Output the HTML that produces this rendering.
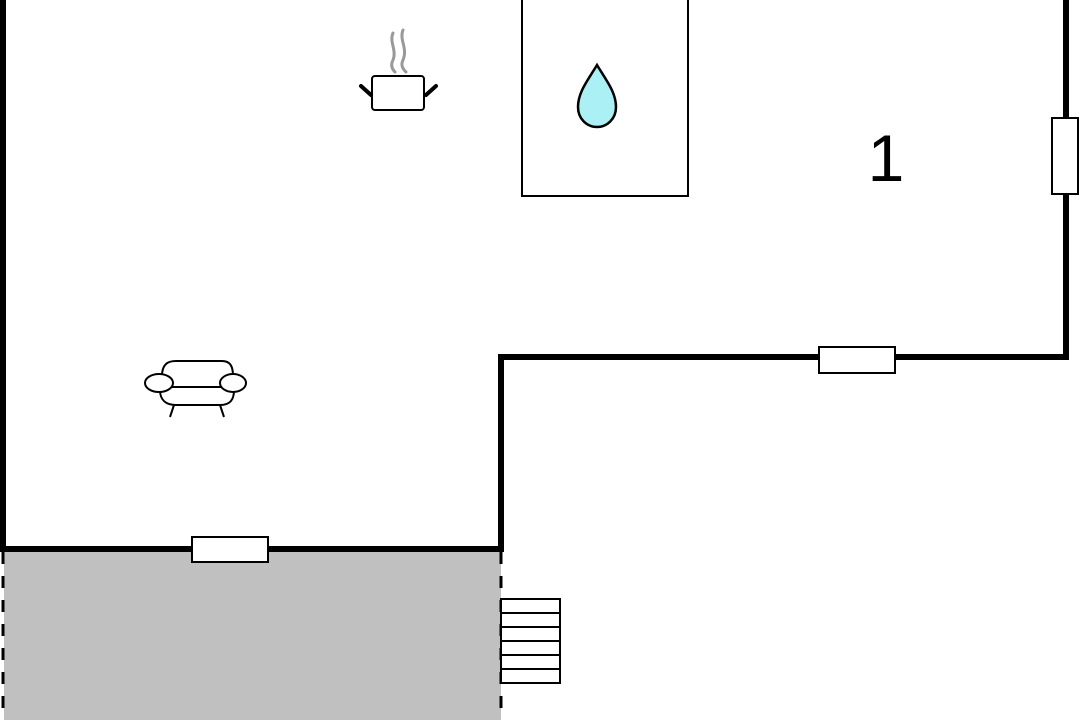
<!DOCTYPE html>
<html><head><meta charset="utf-8"><style>
html,body{margin:0;padding:0;background:#fff;width:1080px;height:720px;overflow:hidden}
</style></head><body>
<svg width="1080" height="720" viewBox="0 0 1080 720" xmlns="http://www.w3.org/2000/svg">
<rect x="4" y="549" width="497" height="171" fill="#c0c0c0"/>
<line x1="3" y1="552" x2="3" y2="720" stroke="#000" stroke-width="3" stroke-dasharray="12,12"/>
<line x1="501" y1="552" x2="501" y2="720" stroke="#000" stroke-width="3" stroke-dasharray="12,12"/>
<g fill="none" stroke="#000" stroke-width="6">
<polyline points="3,0 3,549 501,549 501,357 1066,357 1066,0"/>
</g>
<g fill="#fff" stroke="#000" stroke-width="2">
<rect x="1052" y="118" width="26" height="76"/>
<rect x="819" y="347" width="76" height="26"/>
<rect x="192" y="537" width="76" height="25"/>
<rect x="522" y="-2" width="166" height="198"/>
<rect x="501" y="599" width="59" height="84"/>
</g>
<g stroke="#000" stroke-width="2">
<line x1="501" y1="613" x2="560" y2="613"/>
<line x1="501" y1="627" x2="560" y2="627"/>
<line x1="501" y1="641" x2="560" y2="641"/>
<line x1="501" y1="655" x2="560" y2="655"/>
<line x1="501" y1="669" x2="560" y2="669"/>
</g>
<path d="M597,65 C606,80 616,92 616,107 C616,119 607,127 597,127 C587,127 578,119 578,107 C578,92 588,80 597,65 Z" fill="#aaf0f5" stroke="#000" stroke-width="2.5"/>
<text x="886" y="181" font-family="Liberation Sans, sans-serif" font-size="66" text-anchor="middle" fill="#000">1</text>
<!-- pot -->
<g fill="none" stroke="#999" stroke-width="3" stroke-linecap="round">
<path d="M393,33 C389,42 397,50 393,60 C390,66 393,70 395,72"/>
<path d="M403,30 C399,40 408,48 403,60 C400,66 404,70 406,72"/>
</g>
<rect x="372" y="76" width="52" height="34" rx="3" fill="#fff" stroke="#000" stroke-width="2"/>
<g stroke="#000" stroke-width="4" stroke-linecap="round">
<line x1="361" y1="86" x2="371" y2="95"/>
<line x1="436" y1="86" x2="426" y2="95"/>
</g>
<!-- sofa -->
<g fill="#fff" stroke="#000" stroke-width="2">
<path d="M162,376 C162,364 168,361 176,361 L222,361 C230,361 233,366 233,376"/>
<path d="M160,390 C160,400 166,405 176,405 L220,405 C230,405 234,400 234,390"/>
<line x1="167" y1="387" x2="228" y2="387"/>
<ellipse cx="159" cy="383" rx="14" ry="9"/>
<ellipse cx="233" cy="383" rx="13" ry="9"/>
<line x1="174" y1="405" x2="170" y2="417"/>
<line x1="220" y1="405" x2="224" y2="417"/>
</g>
</svg>
</body></html>
